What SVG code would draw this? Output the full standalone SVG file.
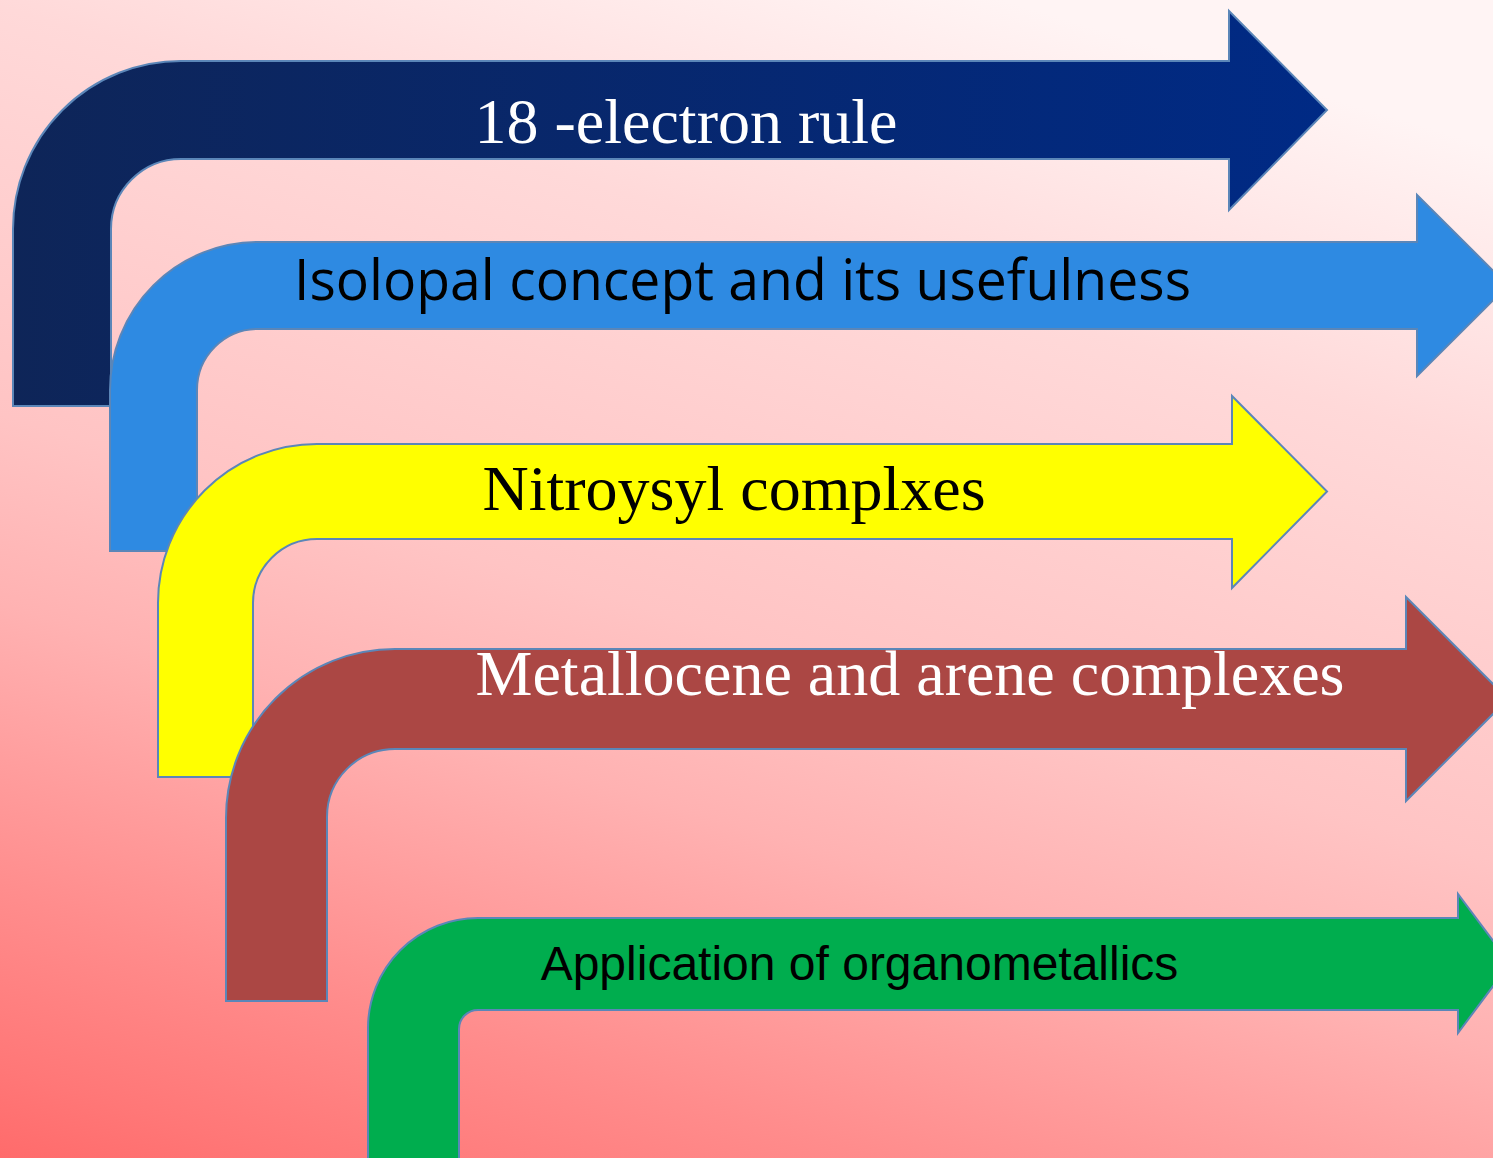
<svg xmlns="http://www.w3.org/2000/svg" width="1493" height="1158" viewBox="0 0 1493 1158">
<style>
.arr{stroke:#5b86b8;stroke-width:2;stroke-linejoin:miter}
.serif{font-family:"Liberation Serif","Times New Roman",serif}
.sans{font-family:"Open Sans","Liberation Sans",sans-serif}
.arial{font-family:"Liberation Sans",Arial,sans-serif}
</style>
<defs>
<linearGradient id="bg" gradientUnits="userSpaceOnUse" x1="0" y1="1158" x2="400" y2="-180">
<stop offset="0" stop-color="#ff6b6b"/>
<stop offset="0.06" stop-color="#ff7777"/>
<stop offset="0.18" stop-color="#ff8c8c"/>
<stop offset="0.38" stop-color="#ffb2b2"/>
<stop offset="0.51" stop-color="#ffc4c4"/>
<stop offset="0.79" stop-color="#ffd9d9"/>
<stop offset="1" stop-color="#fff4f4"/>
</linearGradient>
<linearGradient id="navy" x1="0" y1="0" x2="1" y2="0">
<stop offset="0" stop-color="#0e2558"/>
<stop offset="1" stop-color="#002a85"/>
</linearGradient>
</defs>
<rect x="0" y="0" width="1493" height="1158" fill="url(#bg)"/>
<g id="node-1">
<path class="arr" fill="url(#navy)" d="M13,406 L13,229 A168,168 0 0 1 181,61 L1229,61 L1229,11 L1327,110 L1229,210 L1229,159 L181,159 A70,70 0 0 0 111,229 L111,406 Z"/>
<text class="serif" x="686" y="143" font-size="64" fill="#ffffff" text-anchor="middle">18 -electron rule</text>
</g>
<g id="node-2">
<path class="arr" fill="#2e8ae2" d="M110,551 L110,390 A148,148 0 0 1 258,242 L1417,242 L1417,195 L1508,285.5 L1417,376 L1417,329 L258,329 A61,61 0 0 0 197,390 L197,551 Z"/>
<text class="sans" x="294" y="300" font-size="57" fill="#000000" textLength="897" lengthAdjust="spacingAndGlyphs">Isolopal concept and its usefulness</text>
</g>
<g id="node-3">
<path class="arr" fill="#ffff00" d="M158,777 L158,603 A159,159 0 0 1 317,444 L1232,444 L1232,396 L1327,491.5 L1232,588 L1232,539 L317,539 A64,64 0 0 0 253,603 L253,777 Z"/>
<text class="serif" x="734" y="510" font-size="64" fill="#000000" text-anchor="middle">Nitroysyl complxes</text>
</g>
<g id="node-4">
<path class="arr" fill="#ab4744" d="M226,1001 L226,818 A169,169 0 0 1 395,649 L1406,649 L1406,597 L1508,699 L1406,801 L1406,749 L395,749 A68,68 0 0 0 327,817 L327,1001 Z"/>
<text class="serif" x="910" y="695" font-size="64" fill="#ffffff" text-anchor="middle">Metallocene and arene complexes</text>
</g>
<g id="node-5">
<path class="arr" fill="#00ad4e" d="M368,1170 L368,1028 A110,110 0 0 1 478,918 L1458,918 L1458,894 L1510,963.5 L1458,1033 L1458,1010 L478,1010 A19,19 0 0 0 459,1029 L459,1170 Z"/>
<text class="arial" x="859.5" y="980" font-size="48" fill="#000000" text-anchor="middle">Application of organometallics</text>
</g>
<g id="connectors"></g>
</svg>
